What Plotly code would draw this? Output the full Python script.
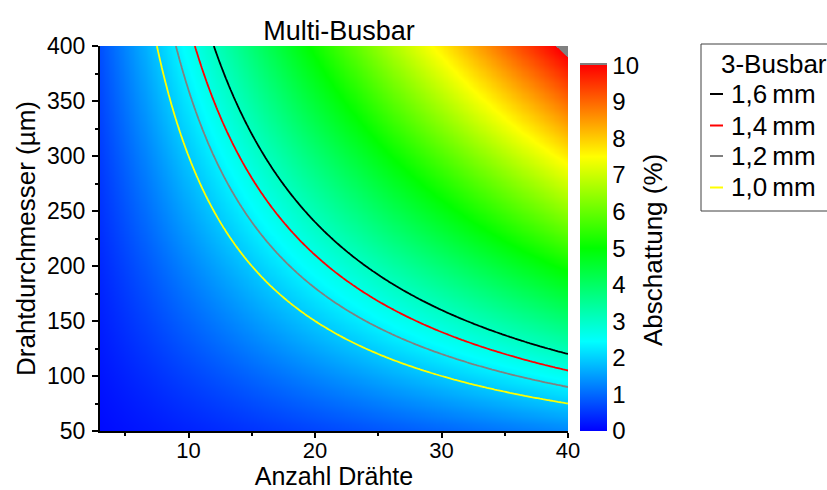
import numpy as np
import plotly.graph_objects as go

# Parameter space: number of wires and wire diameter (µm)
n_wires = np.linspace(3, 40, 186)
d_wire_um = np.linspace(50, 400, 176)

# Cell width used for the shading fraction (mm)
cell_width_mm = 156.0
busbar_count = 3

# Reference busbar widths (mm) and how they are drawn
busbar_widths_mm = [1.6, 1.4, 1.2, 1.0]
busbar_labels = ["1,6\u2009mm", "1,4\u2009mm", "1,2\u2009mm", "1,0\u2009mm"]
busbar_colors = ["#000000", "#FF0000", "#808080", "#FFFF00"]

colorbar_ticks = list(range(0, 11))
x_ticks = [10, 20, 30, 40]
y_ticks = [50, 100, 150, 200, 250, 300, 350, 400]
x_minor = [5, 15, 25, 35]
y_minor = [75, 125, 175, 225, 275, 325, 375]

FONT = "Arial, Liberation Sans, sans-serif"
TICK_SIZE = 23
TITLE_SIZE = 26
W, H = 827, 490
L, R, T, B = 100, 259, 46, 59

# Shading in percent: wire shadow width over cell width
N, D = np.meshgrid(n_wires, d_wire_um)
shading = N * D / 1000.0 / cell_width_mm * 100.0

# Rainbow scale 0..10 %, values above 10 % shown grey
cmax = 10.06
f = 10.0 / cmax
scale = [
    [0.0, "#0000FF"],
    [0.245 * f, "#00FFFF"],
    [0.5 * f, "#00FF00"],
    [0.75 * f, "#FFFF00"],
    [1.0 * f, "#FF0000"],
    [1.0 * f + 0.0005, "#808080"],
    [1.0, "#808080"],
]

plot_w = W - L - R
plot_h = H - T - B


def px_x(px):
    return (px - L) / plot_w


def px_y(py):
    return (H - B - py) / plot_h


def font(size):
    return dict(family=FONT, size=size, color="black")


CBAR_TOP = 63

fig = go.Figure()

fig.add_trace(go.Heatmap(
    x=n_wires, y=d_wire_um, z=shading,
    zmin=0, zmax=cmax, colorscale=scale, zsmooth="best",
    hoverinfo="skip",
    colorbar=dict(
        x=px_x(580), xanchor="left", xpad=0,
        y=0, yanchor="bottom", ypad=0,
        len=(H - B - CBAR_TOP) / plot_h, lenmode="fraction",
        thickness=27, outlinewidth=0,
        tickvals=colorbar_ticks, ticks="",
        tickfont=font(24),
    ),
))

# Equal-shading contours for each busbar width
for w, lab, col in zip(busbar_widths_mm, busbar_labels, busbar_colors):
    level = busbar_count * w / cell_width_mm * 100.0
    fig.add_trace(go.Contour(
        x=n_wires, y=d_wire_um, z=shading,
        autocontour=False,
        contours=dict(start=level, end=level, size=1, coloring="lines", showlabels=False),
        colorscale=[[0, col], [1, col]], showscale=False,
        line=dict(width=1.8, smoothing=0), name=lab, showlegend=False,
        hoverinfo="skip",
    ))

axis_common = dict(
    showgrid=False, zeroline=False,
    showline=True, linecolor="black", linewidth=2,
    tickcolor="black", tickwidth=1.5, ticklen=6,
    tickfont=font(TICK_SIZE),
)


def minor(ticks, vals):
    return dict(tickvals=vals, ticks=ticks, ticklen=3, tickwidth=1.5, tickcolor="black")


fig.update_layout(
    width=W, height=H,
    margin=dict(l=L, r=R, t=T, b=B, autoexpand=False),
    paper_bgcolor="white", plot_bgcolor="white",
    font=font(TICK_SIZE),
    title=dict(text="Multi-Busbar", x=339 / W, xanchor="center",
               y=1 - 31 / H, yanchor="middle", font=font(27)),
    xaxis=dict(axis_common, range=[3, 40], tickvals=x_ticks, ticks="outside",
               ticklen=5, tickfont=font(22), ticklabelstandoff=-6,
               minor=minor("outside", x_minor),
               title=dict(text="Anzahl Drähte", standoff=8, font=font(25))),
    yaxis=dict(axis_common, range=[50, 400], tickvals=y_ticks, ticks="outside",
               ticklabelstandoff=2,
               minor=minor("outside", y_minor),
               title=dict(text="Drahtdurchmesser (µm)", standoff=4, font=font(TITLE_SIZE))),
    xaxis2=dict(axis_common, overlaying="x", side="top", anchor="y", range=[3, 40],
                tickvals=x_ticks, ticks="inside", showticklabels=False,
                minor=minor("inside", x_minor)),
    yaxis2=dict(axis_common, overlaying="y", side="right", anchor="x", range=[50, 400],
                tickvals=y_ticks, ticks="inside", showticklabels=False,
                minor=minor("inside", y_minor)),
)

# Colour-bar title, vertical, to the right of the tick labels
annotations = [dict(text="Abschattung (%)", xref="paper", yref="paper",
                    x=px_x(653), y=px_y((CBAR_TOP + H - B) / 2 + 3),
                    xanchor="center", yanchor="middle", textangle=-90,
                    showarrow=False, font=font(TITLE_SIZE))]

# Legend box with the busbar widths
LEG_SIZE = 26
shapes = [dict(type="rect", xref="paper", yref="paper",
               x0=px_x(701), x1=px_x(840), y0=px_y(211), y1=px_y(44),
               line=dict(color="#404040", width=1), fillcolor="rgba(0,0,0,0)",
               layer="above")]
annotations.append(dict(text="3-Busbar", xref="paper", yref="paper",
                        x=px_x(719), y=px_y(64), xanchor="left", yanchor="middle",
                        showarrow=False, font=font(LEG_SIZE)))
item_rows = [94, 125.5, 156, 187.5]
for lab, col, row in zip(busbar_labels, busbar_colors, item_rows):
    shapes.append(dict(type="line", xref="paper", yref="paper",
                       x0=px_x(710), x1=px_x(723), y0=px_y(row), y1=px_y(row),
                       line=dict(color=col, width=2)))
    annotations.append(dict(text=lab, xref="paper", yref="paper",
                            x=px_x(729), y=px_y(row), xanchor="left", yanchor="middle",
                            showarrow=False, font=font(LEG_SIZE)))
fig.update_layout(shapes=shapes, annotations=annotations)

fig.write_html("out.html")
